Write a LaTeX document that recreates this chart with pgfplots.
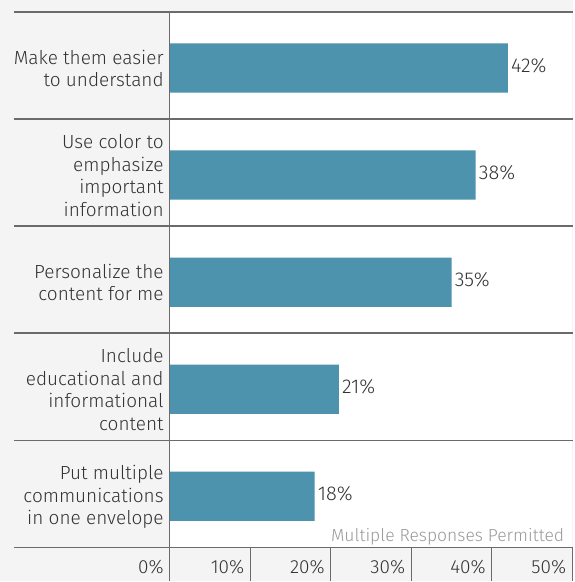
\documentclass[border=0pt]{standalone}
\usepackage{pgfplots}
\pgfplotsset{compat=1.18}
\usepackage{fontspec}
\setmainfont{Fira Sans}[UprightFont=* Light]
\definecolor{bgcol}{HTML}{F3F4F3}
\definecolor{barcol}{HTML}{4D93AD}
\definecolor{txtcol}{HTML}{333333}
\definecolor{linecol}{HTML}{6B6B6B}
\definecolor{notecol}{HTML}{9A9A9A}
\begin{document}
\begin{tikzpicture}
\fill[bgcol] (-170pt,-34pt) rectangle (404pt,548pt);
\begin{axis}[
  scale only axis, width=403pt, height=536pt,
  xmin=0, xmax=50, ymin=0.5, ymax=5.5,
  clip=false,
  axis line style={draw=none},
  major tick length=0pt,
  axis background/.style={fill=white},
  xtick={0,10,20,30,40,50},
  xticklabels={0\%,10\%,20\%,30\%,40\%,50\%},
  xticklabel style={anchor=base east, inner sep=0pt, xshift=-6pt, yshift=-26pt, text=txtcol, font=\fontsize{19}{22}\selectfont},
  ytick={1,2,3,4,5},
  yticklabels={{Put multiple\\communications\\in one envelope},{Include\\educational and\\informational\\content},{Personalize the\\content for me},{Use color to\\emphasize\\important\\information},{Make them easier\\to understand}},
  yticklabel style={align=right, anchor=east, inner sep=0pt, xshift=-6pt, yshift=-3pt, text=txtcol, font=\fontsize{19}{22.5}\selectfont},
]
\addplot[xbar, fill=barcol, draw=none, bar width=0.46, bar shift=-2.5pt,
  nodes near coords={\pgfmathprintnumber[assume math mode=true]{\pgfplotspointmeta}\%},
  every node near coord/.append style={anchor=west, inner sep=0pt, xshift=3pt, text=txtcol, font=\fontsize{20}{22}\selectfont}]
  coordinates {(42,5) (38,4) (35,3) (21,2) (18,1)};
\pgfplotsinvokeforeach{0.5,1.5,2.5,3.5,4.5,5.5}{
  \draw[linecol, line width=1.4pt] ([xshift=-156pt]axis cs:0,#1) -- ([xshift=1pt]axis cs:50,#1);
}
\draw[linecol, line width=1.4pt] (axis cs:0,5.5) -- ([yshift=-34pt]axis cs:0,0.5);
\pgfplotsinvokeforeach{10,20,30,40,50}{
  \draw[linecol, line width=1.2pt] (axis cs:#1,0.5) -- ([yshift=-34pt]axis cs:#1,0.5);
}
\node[anchor=base east, inner sep=0pt, text=notecol, font=\fontsize{17.5}{20}\selectfont] at ([xshift=-8pt, yshift=6pt]axis cs:50,0.5) {Multiple Responses Permitted};
\end{axis}
\end{tikzpicture}
\end{document}
